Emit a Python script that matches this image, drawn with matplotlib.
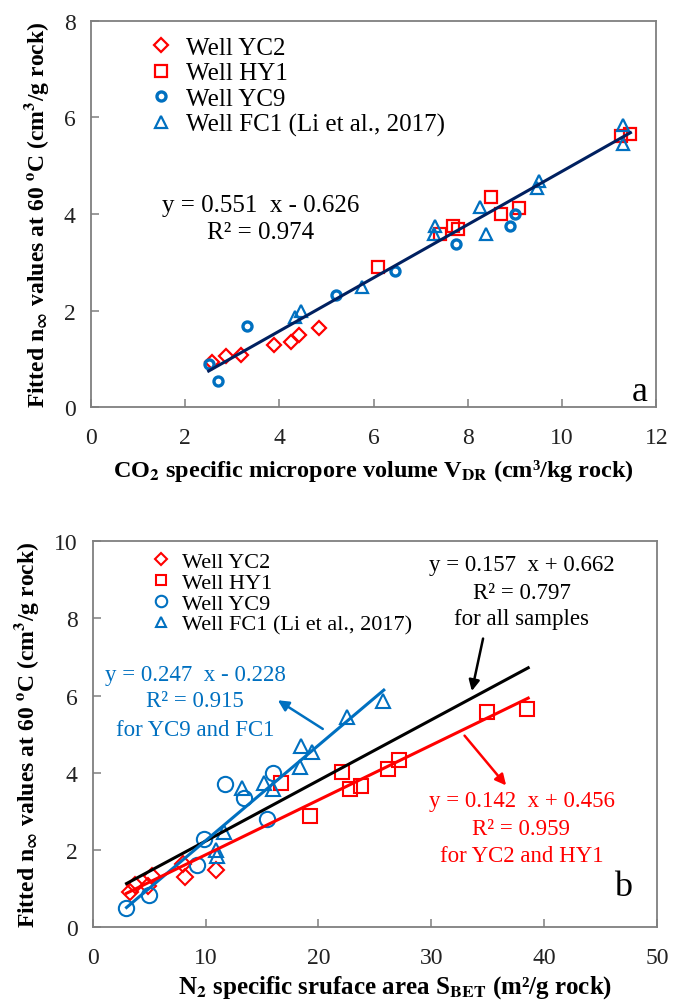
import numpy as np
import matplotlib
matplotlib.use('Agg')
import matplotlib.pyplot as plt

plt.rcParams['font.family'] = ['Liberation Serif', 'DejaVu Serif']
plt.rcParams['mathtext.fontset'] = 'stix'

RED = '#ff0000'
BLUE = '#0070c0'
NAVY = '#002060'

# ---- panel a: n_inf vs CO2 micropore volume V_DR ----
yc2_vdr = [2.58, 2.87, 3.19, 3.88, 4.25, 4.42, 4.85]
yc2_n = [0.94, 1.07, 1.08, 1.28, 1.35, 1.50, 1.65]
hy1_vdr = [6.10, 7.40, 7.69, 7.79, 8.49, 8.70, 9.08, 11.24, 11.45]
hy1_n = [2.90, 3.59, 3.75, 3.68, 4.36, 4.00, 4.13, 5.62, 5.66]
yc9_vdr = [2.50, 2.69, 3.32, 5.20, 6.45, 7.75, 8.89, 9.01]
yc9_n = [0.89, 0.54, 1.68, 2.33, 2.82, 3.38, 3.75, 4.00]
fc1_vdr = [4.34, 4.45, 5.76, 7.28, 7.30, 8.26, 8.39, 9.46, 9.51, 11.30, 11.30]
fc1_n = [1.86, 2.00, 2.50, 3.59, 3.75, 4.14, 3.59, 4.54, 4.69, 5.84, 5.45]

fit_a = (0.551, -0.626, 0.974)
fit_a_x = [2.5, 11.45]

# ---- panel b: n_inf vs N2 BET surface area ----
yc2_bet = [3.35, 3.72, 4.90, 5.30, 8.00, 8.22, 10.95]
yc2_nb = [0.92, 1.10, 1.08, 1.34, 1.64, 1.30, 1.48]
hy1_bet = [16.65, 19.25, 22.14, 22.79, 23.82, 26.18, 27.15, 34.97, 38.51]
hy1_nb = [3.73, 2.88, 4.02, 3.58, 3.67, 4.10, 4.34, 5.59, 5.66]
yc9_bet = [2.96, 5.03, 9.22, 9.90, 11.73, 13.40, 15.41, 15.94]
yc9_nb = [0.49, 0.84, 1.61, 2.30, 3.71, 3.34, 2.81, 4.00]
fc1_bet = [10.90, 11.00, 11.67, 13.22, 15.15, 16.00, 18.38, 19.48, 18.42, 22.55, 25.74]
fc1_nb = [2.00, 1.85, 2.48, 3.60, 3.75, 3.58, 4.14, 4.53, 4.69, 5.44, 5.87]

fit_all = (0.157, 0.662, 0.797)
fit_all_x = [3.0, 38.6]
fit_blue = (0.247, -0.228, 0.915)
fit_blue_x = [3.0, 25.8]
fit_red = (0.142, 0.456, 0.959)
fit_red_x = [3.0, 38.6]

labels = ['Well YC2', 'Well HY1', 'Well YC9', 'Well FC1 (Li et al., 2017)']

fig = plt.figure(figsize=(6.83, 10.04), dpi=100)
ax1 = fig.add_axes([0.133, 0.5933, 0.828, 0.3851])
ax2 = fig.add_axes([0.1357, 0.0754, 0.826, 0.3845])

ylab = r'Fitted n$_\mathbf{\infty}$ values at 60 $^\mathbf{o}$C (cm$^\mathbf{3}$/g rock)'


def style_axes(ax):
    for s in ax.spines.values():
        s.set_color('#7f7f7f')
        s.set_linewidth(1.3)
    ax.tick_params(direction='in', length=6, width=1.1, color='#7f7f7f',
                   labelsize=17, top=False, right=False, pad=11)
    ax.tick_params(axis='x', pad=14)
    for t in ax.get_xticklabels() + ax.get_yticklabels():
        t.set_color('#222222')


# panel a
ax1.plot(yc2_vdr, yc2_n, 'D', ls='none', mfc='none', mec=RED, ms=7.5, mew=1.6, label=labels[0])
ax1.plot(hy1_vdr, hy1_n, 's', ls='none', mfc='none', mec=RED, ms=8, mew=1.6, label=labels[1])
ax1.plot(yc9_vdr, yc9_n, 'o', ls='none', mfc='none', mec=BLUE, ms=6.5, mew=2.4, label=labels[2])
ax1.plot(fc1_vdr, fc1_n, '^', ls='none', mfc='none', mec=BLUE, ms=8.5, mew=1.6, label=labels[3])
xa = np.array(fit_a_x)
ax1.plot(xa, fit_a[0] * xa + fit_a[1], color=NAVY, lw=2.2)
ax1.text(3.6, 4.18, 'y = %.3f  x - %.3f' % (fit_a[0], -fit_a[1]), fontsize=18,
         ha='center', va='center')
ax1.text(3.6, 3.62, 'R² = %.3f' % fit_a[2], fontsize=18, ha='center', va='center')
ax1.text(11.65, 0.32, 'a', fontsize=26, ha='center', va='center')
ax1.set_xlim(0, 12)
ax1.set_ylim(0, 8)
ax1.set_xticks(range(0, 13, 2))
ax1.set_yticks(range(0, 9, 2))
ax1.set_xlabel(r'CO$_\mathbf{2}$ specific micropore volume V$_\mathbf{DR}$ (cm³/kg rock)',
               fontsize=17.5, fontweight='bold', labelpad=7)
ax1.set_ylabel(ylab, fontsize=17, fontweight='bold', labelpad=9)
style_axes(ax1)
ax1.legend(loc='upper left', bbox_to_anchor=(0.085, 0.985), frameon=False, fontsize=18,
           handlelength=1.0, handletextpad=0.5, labelspacing=0.12, borderaxespad=0)

# panel b
ax2.plot(yc2_bet, yc2_nb, 'D', ls='none', mfc='none', mec=RED, ms=8, mew=1.5, label=labels[0])
ax2.plot(hy1_bet, hy1_nb, 's', ls='none', mfc='none', mec=RED, ms=10, mew=1.5, label=labels[1])
ax2.plot(yc9_bet, yc9_nb, 'o', ls='none', mfc='none', mec=BLUE, ms=11, mew=1.5, label=labels[2])
ax2.plot(fc1_bet, fc1_nb, '^', ls='none', mfc='none', mec=BLUE, ms=10, mew=1.5, label=labels[3])

for (m, b, r2), xs, c in [(fit_all, fit_all_x, 'black'), (fit_blue, fit_blue_x, BLUE),
                          (fit_red, fit_red_x, RED)]:
    xs = np.array(xs)
    ax2.plot(xs, m * xs + b, color=c, lw=2.2)

ax2.text(38.0, 9.41, 'y = %.3f  x + %.3f' % (fit_all[0], fit_all[1]), fontsize=16.5, ha='center', va='center')
ax2.text(38.0, 8.68, 'R² = %.3f' % fit_all[2], fontsize=16.5, ha='center', va='center')
ax2.text(38.0, 7.99, 'for all samples', fontsize=16.5, ha='center', va='center')
ax2.annotate('', xy=(33.55, 6.05), xytext=(34.65, 7.55),
             arrowprops=dict(arrowstyle='-|>', color='black', lw=1.8, mutation_scale=16))

ax2.text(9.1, 6.56, 'y = %.3f  x - %.3f' % (fit_blue[0], -fit_blue[1]), fontsize=16.5,
         color=BLUE, ha='center', va='center')
ax2.text(9.1, 5.87, 'R² = %.3f' % fit_blue[2], fontsize=16.5, color=BLUE, ha='center', va='center')
ax2.text(9.1, 5.13, 'for YC9 and FC1', fontsize=16.5, color=BLUE, ha='center', va='center')
ax2.annotate('', xy=(16.2, 5.92), xytext=(20.6, 5.1),
             arrowprops=dict(arrowstyle='-|>', color=BLUE, lw=1.8, mutation_scale=16))

ax2.text(38.0, 3.28, 'y = %.3f  x + %.3f' % (fit_red[0], fit_red[1]), fontsize=16.5,
         color=RED, ha='center', va='center')
ax2.text(38.0, 2.55, 'R² = %.3f' % fit_red[2], fontsize=16.5, color=RED, ha='center', va='center')
ax2.text(38.0, 1.85, 'for YC2 and HY1', fontsize=16.5, color=RED, ha='center', va='center')
ax2.annotate('', xy=(36.8, 3.62), xytext=(32.8, 5.02),
             arrowprops=dict(arrowstyle='-|>', color=RED, lw=1.8, mutation_scale=16))

ax2.text(47.0, 1.05, 'b', fontsize=26, ha='center', va='center')
ax2.set_xlim(0, 50)
ax2.set_ylim(0, 10)
ax2.set_xticks(range(0, 51, 10))
ax2.set_yticks(range(0, 11, 2))
ax2.set_xlabel(r'N$_\mathbf{2}$ specific sruface area S$_\mathbf{BET}$ (m²/g rock)',
               fontsize=18, fontweight='bold', labelpad=4)
ax2.xaxis.label.set_x(0.536)
ax2.set_ylabel(ylab, fontsize=17, fontweight='bold', labelpad=9)
style_axes(ax2)
ax2.legend(loc='upper left', bbox_to_anchor=(0.085, 0.997), frameon=False, fontsize=16,
           handlelength=1.0, handletextpad=0.45, labelspacing=0.02, borderaxespad=0,
           markerscale=0.75)

fig.savefig('out.png', dpi=100)
